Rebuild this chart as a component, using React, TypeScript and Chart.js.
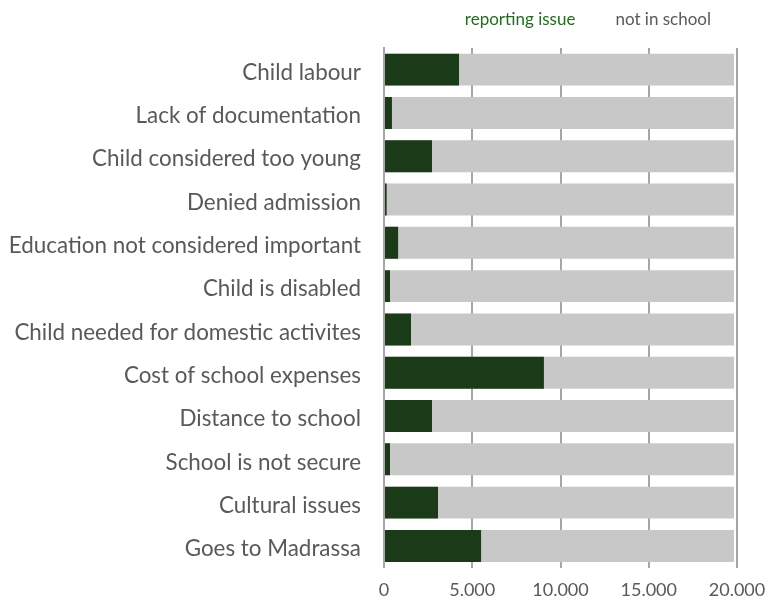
import React, { useEffect, useRef } from "react";
import { Chart, registerables } from "chart.js";

Chart.register(...registerables);

const categories: string[] = [
  "Child labour",
  "Lack of documentation",
  "Child considered too young",
  "Denied admission",
  "Education not considered important",
  "Child is disabled",
  "Child needed for domestic activites",
  "Cost of school expenses",
  "Distance to school",
  "School is not secure",
  "Cultural issues",
  "Goes to Madrassa",
];

const reportingIssue: number[] = [4250, 450, 2720, 150, 800, 340, 1530, 9060, 2720, 340, 3060, 5500];
const notInSchool: number[] = [19830, 19830, 19830, 19830, 19830, 19830, 19830, 19830, 19830, 19830, 19830, 19830];

const seriesLabels: string[] = ["reporting issue", "not in school"];
const xTickValues: number[] = [0, 5000, 10000, 15000, 20000];

const GREEN = "#1b3a18";
const GREY = "#c8c8c8";
const LEGEND_COLORS = ["#236b23", "#595959"];
const FONT = "Lato";

const fmt = (v: number) => String(v).replace(/\B(?=(\d{3})+(?!\d))/g, ".");

export default function App() {
  const ref = useRef<HTMLCanvasElement | null>(null);

  useEffect(() => {
    if (!ref.current) return;
    const chart = new Chart(ref.current, {
      type: "bar",
      data: {
        labels: categories,
        datasets: [
          {
            label: seriesLabels[0],
            data: reportingIssue,
            backgroundColor: GREEN,
            grouped: false,
            order: 0,
            barPercentage: 1,
            categoryPercentage: 0.738,
          },
          {
            label: seriesLabels[1],
            data: notInSchool,
            backgroundColor: GREY,
            grouped: false,
            order: 1,
            barPercentage: 1,
            categoryPercentage: 0.738,
          },
        ],
      },
      options: {
        indexAxis: "y",
        animation: false,
        responsive: false,
        devicePixelRatio: 1,
        layout: { padding: { left: 0, right: 63, top: 0, bottom: 0 } },
        plugins: {
          tooltip: { enabled: false },
          title: { display: false },
          legend: {
            display: true,
            position: "top",
            align: "end",
            fullSize: false,
            labels: {
              font: { family: FONT, size: 17 },
              boxWidth: 5.5,
              boxHeight: 36,
              padding: 26,
              generateLabels: (c: any) =>
                c.data.datasets.map((ds: any, i: number) => ({
                  text: ds.label,
                  fillStyle: "rgba(0,0,0,0)",
                  strokeStyle: "rgba(0,0,0,0)",
                  lineWidth: 0,
                  fontColor: LEGEND_COLORS[i],
                  datasetIndex: i,
                  hidden: false,
                })),
            },
          },
        },
        scales: {
          x: {
            type: "linear",
            min: 0,
            max: 20000,
            afterBuildTicks: (scale: any) => {
              scale.ticks = xTickValues.map((v) => ({ value: v }));
            },
            afterFit: (scale: any) => {
              scale.height = 36;
            },
            grid: { color: "#a6a6a6", lineWidth: 2, drawTicks: false },
            border: { display: false },
            ticks: {
              color: "#595959",
              font: { family: FONT, size: 18 },
              padding: 12,
              callback: (v: any) => fmt(Number(v)),
            },
          },
          y: {
            type: "category",
            afterFit: (scale: any) => {
              scale.width = 384;
            },
            grid: { display: false, drawTicks: false },
            border: { display: true, color: "#a6a6a6", width: 2 },
            ticks: {
              color: "#595959",
              font: { family: FONT, size: 22.4 },
              padding: 23,
              labelOffset: 3,
            },
          },
        },
      },
    } as any);
    return () => chart.destroy();
  }, []);

  return (
    <div style={{ position: "fixed", left: 0, top: 0, width: 768, height: 604, overflow: "hidden", background: "#fff" }}>
      <div style={{ position: "absolute", left: 0, top: -24, width: 800, height: 628 }}>
        <canvas ref={ref} width={800} height={628} style={{ width: 800, height: 628, display: "block" }} />
      </div>
    </div>
  );
}
